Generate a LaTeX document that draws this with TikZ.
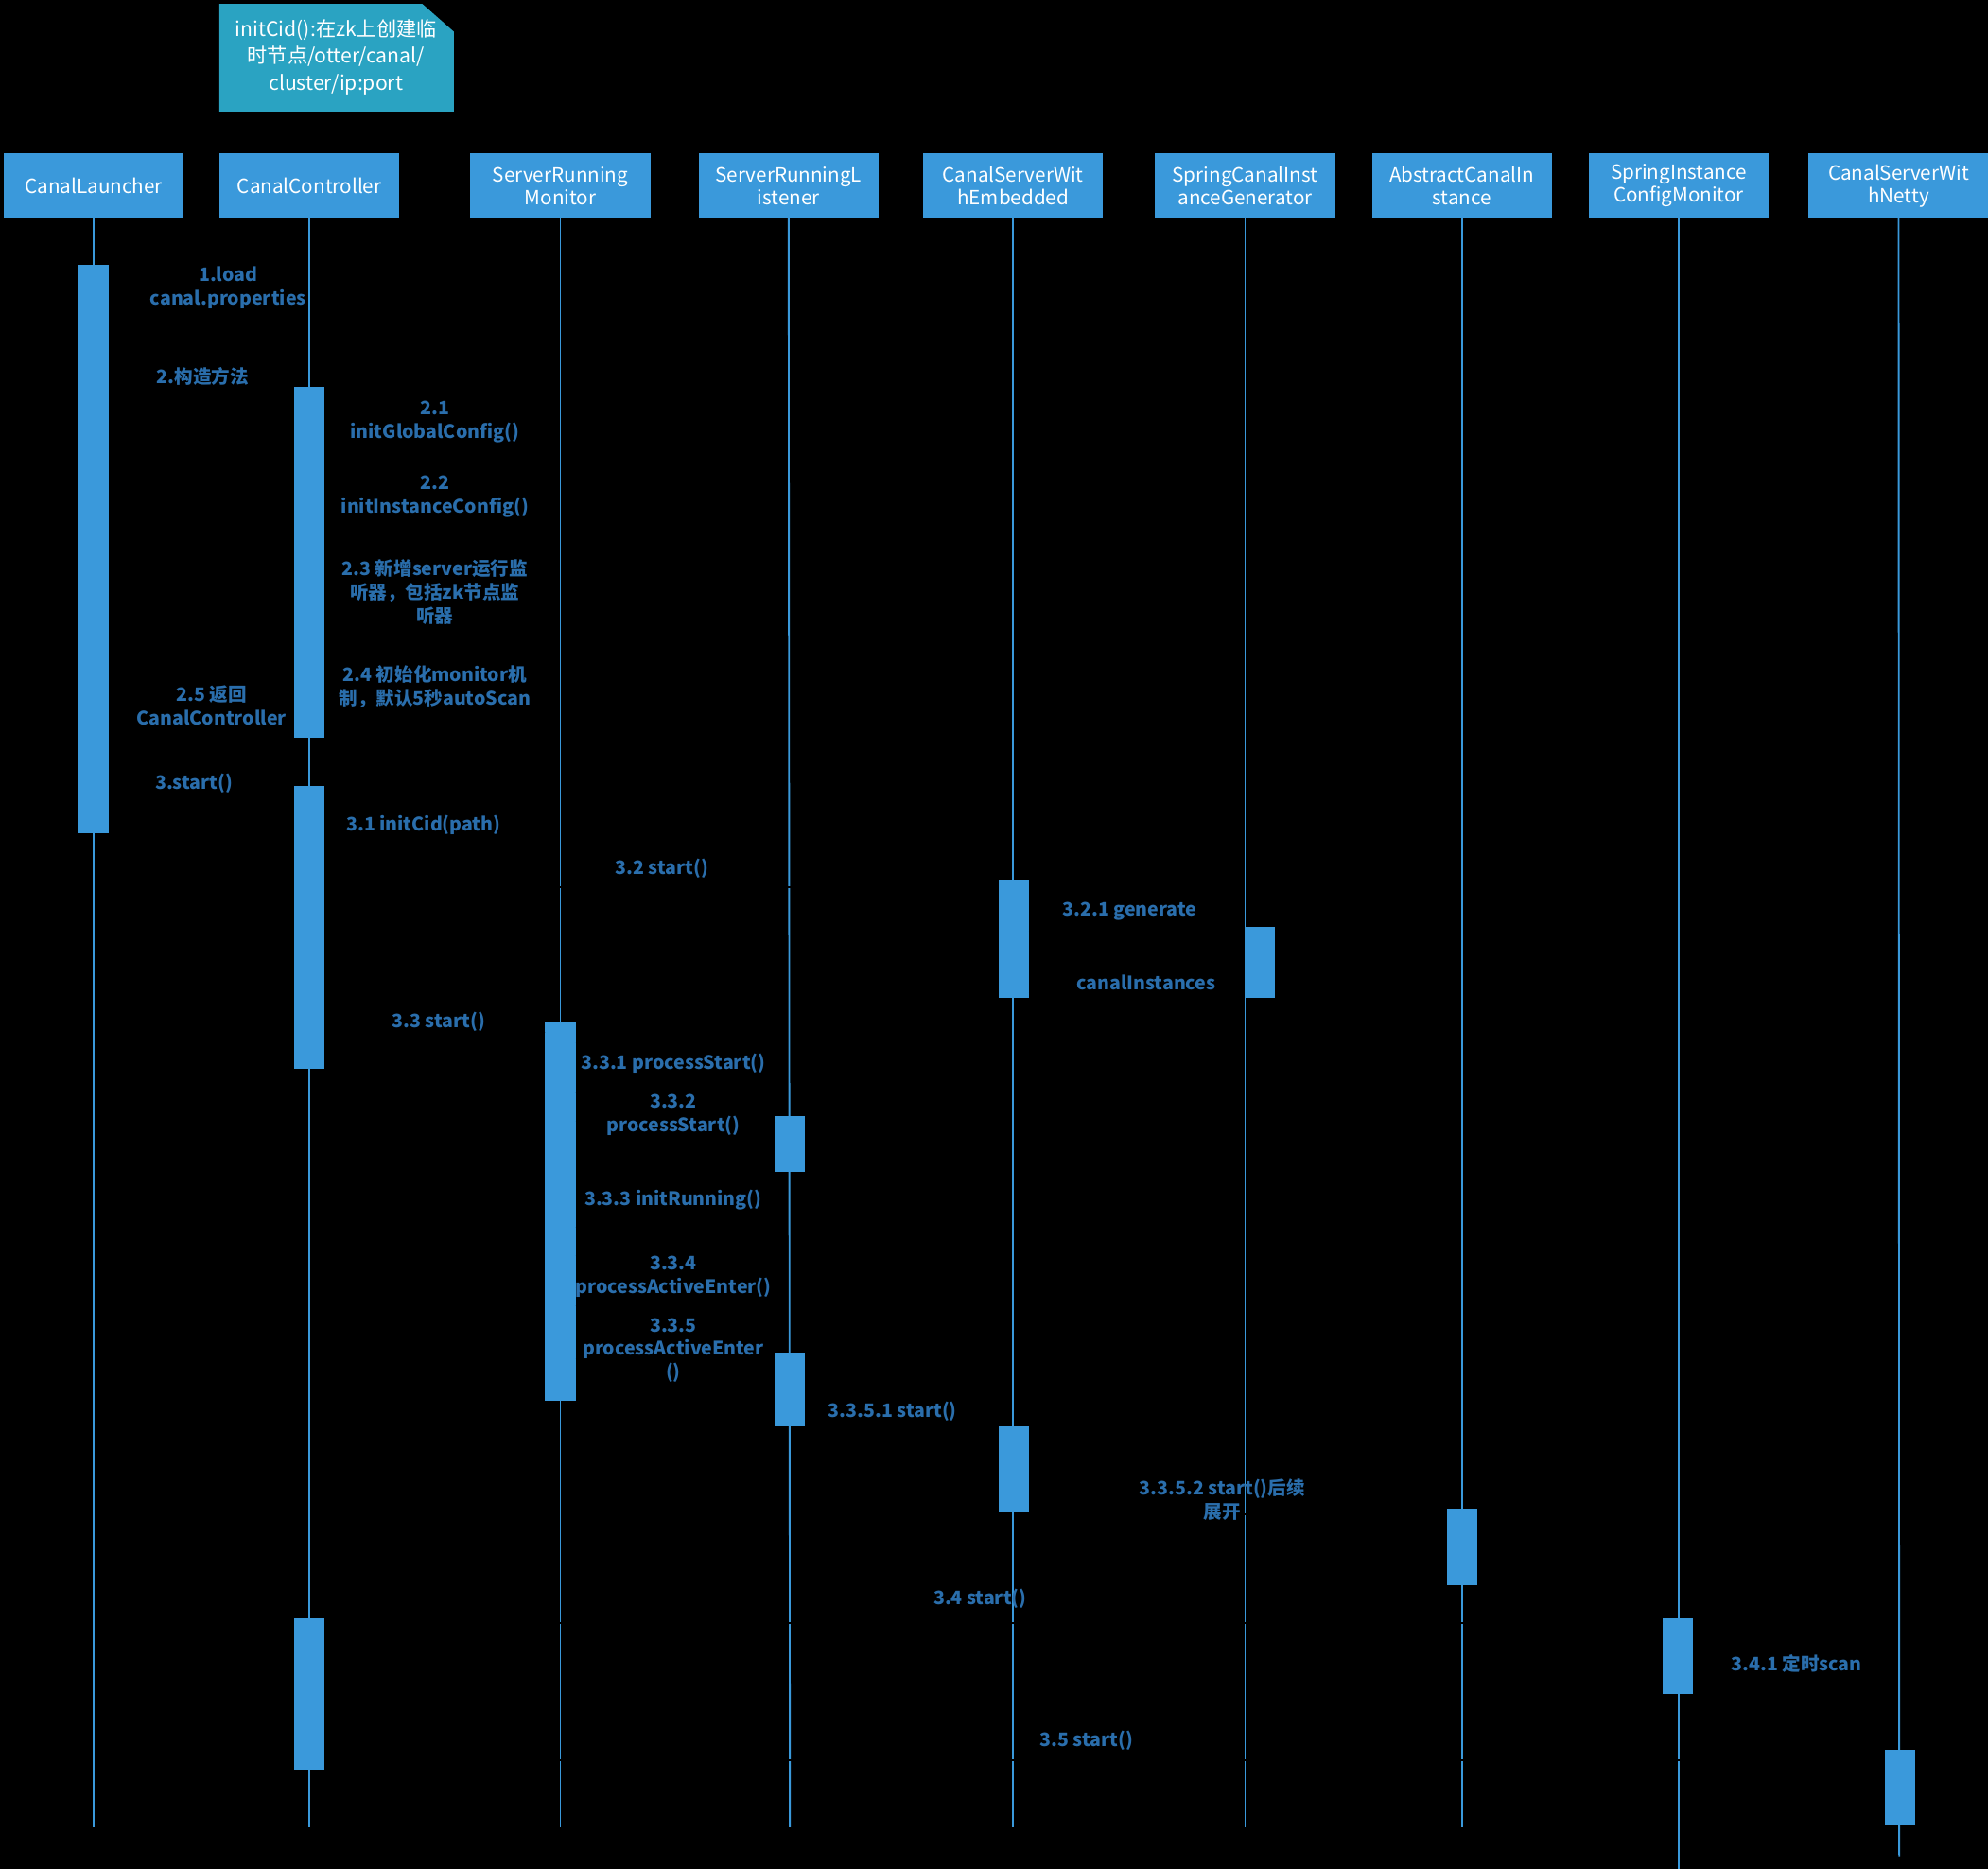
\documentclass[tikz,border=0pt]{standalone}
\usepackage{fontspec}
\setmainfont{Noto Sans CJK SC}
\usetikzlibrary{arrows.meta,calc}
\definecolor{hdr}{RGB}{58,153,219}
\definecolor{notec}{RGB}{42,163,194}
\definecolor{lblc}{RGB}{42,110,172}
\begin{document}
\begin{tikzpicture}[x=0.5pt,y=-0.5pt,
  hdrbox/.style={fill=hdr,text=white,minimum width=71pt,minimum height=25.5pt,inner sep=0pt,outer sep=0pt,align=center,font=\fontsize{7.7}{9}\selectfont},
  life/.style={draw=hdr,line width=0.7pt},
  bar/.style={fill=hdr,minimum width=12pt,inner sep=0pt,outer sep=0pt,anchor=north},
  lbl/.style={text=lblc,align=center,inner sep=0pt,font=\bfseries\fontsize{7.3}{9.3}\selectfont},
  msg/.style={draw=black,line width=0.8pt,-{Stealth[length=5pt]}},
  ret/.style={msg,dashed},
  notetext/.style={text=white,align=center,inner sep=0pt,font=\fontsize{7.9}{10.5}\selectfont}]
\fill[black] (0,0) rectangle (1568,1474);
\useasboundingbox (0,0) rectangle (1568,1474);
% note
\fill[notec] (173,3) -- (333,3) -- (358,25) -- (358,88) -- (173,88) -- cycle;
\node[notetext] (note) at (265,45) {initCid():在zk上创建临\\时节点/otter/canal/\\cluster/ip:port};
% headers
\node[hdrbox] (h1) at (74,146.5) {CanalLauncher};
\node[hdrbox] (h2) at (244,146.5) {CanalController};
\node[hdrbox] (h3) at (442,146.5) {ServerRunning\\Monitor};
\node[hdrbox] (h4) at (622,146.5) {ServerRunningL\\istener};
\node[hdrbox] (h5) at (799,146.5) {CanalServerWit\\hEmbedded};
\node[hdrbox] (h6) at (982,146.5) {SpringCanalInst\\anceGenerator};
\node[hdrbox] (h7) at (1153,146.5) {AbstractCanalIn\\stance};
\node[hdrbox] (h8) at (1324,146.5) {SpringInstance\\ConfigMonitor};
\node[hdrbox] (h9) at (1497.5,146.5) {CanalServerWit\\hNetty};
% lifeline ends
\coordinate (e1) at (74,1441);
\coordinate (e2) at (244,1441);
\coordinate (e3) at (442,1441);
\coordinate (e4) at (623,1441);
\coordinate (e5) at (799,1441);
\coordinate (e6) at (982,1441);
\coordinate (e7) at (1153,1441);
\coordinate (e8) at (1324,1474);
\coordinate (e9) at (1498,1464);
\foreach \i in {1,...,9} {\draw[life] (h\i.south) -- (e\i);}
% activation bars
\newcommand\actbar[4]{\node[bar,minimum height={(#4-#3)*0.5pt}] (#1) at (#2,#3) {};}
\actbar{lb}{74}{209}{657}
\actbar{cca}{244}{305}{582}
\actbar{ccb}{244}{620}{843}
\actbar{sm}{442}{806}{1105}
\actbar{sla}{623}{880}{924}
\actbar{slb}{623}{1067}{1125}
\actbar{ema}{799.5}{694}{787}
\actbar{gen}{993.5}{731}{787}
\actbar{emb}{799.5}{1125}{1193}
\actbar{ab}{1153}{1190}{1250}
\actbar{ccc}{244}{1276}{1396}
\actbar{sc}{1323.5}{1276}{1336}
\actbar{nt}{1498.5}{1380}{1440}
% messages (black lines, as in the reference)
\draw[msg] (lb.east |- 0,231) -- (112,231) -- (112,247) -- (lb.east |- 0,247);
\draw[msg] (lb.east |- 0,310) -- (cca.west |- 0,310);
\draw[msg] (cca.east |- 0,319) -- (272,319) -- (272,357) -- (cca.east |- 0,357);
\draw[msg] (cca.east |- 0,380) -- (272,380) -- (272,416) -- (cca.east |- 0,416);
\draw[msg] (cca.east |- 0,454) -- (272,454) -- (272,492) -- (cca.east |- 0,492);
\draw[msg] (cca.east |- 0,527) -- (272,527) -- (272,566) -- (cca.east |- 0,566);
\draw[ret] (cca.west |- 0,578) -- (lb.east |- 0,578);
\draw[msg] (lb.east |- 0,628) -- (ccb.west |- 0,628);
\draw[msg] (ccb.east |- 0,673) -- (272,673) -- (272,694) -- (ccb.east |- 0,694);
\draw[msg] (ccb.east |- 0,700) -- (ema.west |- 0,700);
\draw[msg] (ema.east |- 0,735) -- (gen.west |- 0,735);
\draw[ret] (gen.west |- 0,783) -- (ema.east |- 0,783);
\draw[msg] (ccb.east |- 0,814) -- (sm.west |- 0,814);
\draw[msg] (sm.east |- 0,823) -- (470,823) -- (470,862) -- (sm.east |- 0,862);
\draw[msg] (sm.east |- 0,885) -- (sla.west |- 0,885);
\draw[msg] (sm.east |- 0,930) -- (470,930) -- (470,968) -- (sm.east |- 0,968);
\draw[msg] (sm.east |- 0,991) -- (470,991) -- (470,1030) -- (sm.east |- 0,1030);
\draw[msg] (sm.east |- 0,1072) -- (slb.west |- 0,1072);
\draw[msg] (slb.east |- 0,1129) -- (emb.west |- 0,1129);
\draw[msg] (emb.east |- 0,1194) -- (ab.west |- 0,1194);
\draw[msg] (ccc.east |- 0,1280) -- (sc.west |- 0,1280);
\draw[msg] (sc.east |- 0,1290) -- (1350,1290) -- (1350,1330) -- (sc.east |- 0,1330);
\draw[msg] (ccc.east |- 0,1388) -- (nt.west |- 0,1388);
% labels
\node[lbl] (l1) at (180,227) {1.load\\canal.properties};
\node[lbl] (l2) at (160,297) {2.构造方法};
\node[lbl] (l21) at (343,332.5) {2.1\\initGlobalConfig()};
\node[lbl] (l22) at (343,392) {2.2\\initInstanceConfig()};
\node[lbl] (l23) at (343,467) {2.3 新增server运行监\\听器，包括zk节点监\\听器};
\node[lbl] (l24) at (343,541.5) {2.4 初始化monitor机\\制，默认5秒autoScan};
\node[lbl] (l25) at (167,556.5) {2.5 返回\\CanalController};
\node[lbl] (l3) at (153,618) {3.start()};
\node[lbl] (l31) at (334,651) {3.1 initCid(path)};
\node[lbl] (l32) at (522,685) {3.2 start()};
\node[lbl] (l321) at (891,719) {3.2.1 generate};
\node[lbl] (l32r) at (904,775) {canalInstances};
\node[lbl] (l33) at (346,806) {3.3 start()};
\node[lbl] (l331) at (531,839) {3.3.1 processStart()};
\node[lbl] (l332) at (531,879.5) {3.3.2\\processStart()};
\node[lbl] (l333) at (531,946) {3.3.3 initRunning()};
\node[lbl] (l334) at (531,1007) {3.3.4\\processActiveEnter()};
\node[lbl] (l335) at (531,1065) {3.3.5\\processActiveEnter\\()};
\node[lbl] (l3351) at (704,1113) {3.3.5.1 start()};
\node[lbl] (l3352) at (964,1182.5) {3.3.5.2 start()后续\\展开};
\node[lbl] (l34) at (773,1261) {3.4 start()};
\node[lbl] (l341) at (1417,1312) {3.4.1 定时scan};
\node[lbl] (l35) at (857,1373) {3.5 start()};
\end{tikzpicture}
\end{document}
